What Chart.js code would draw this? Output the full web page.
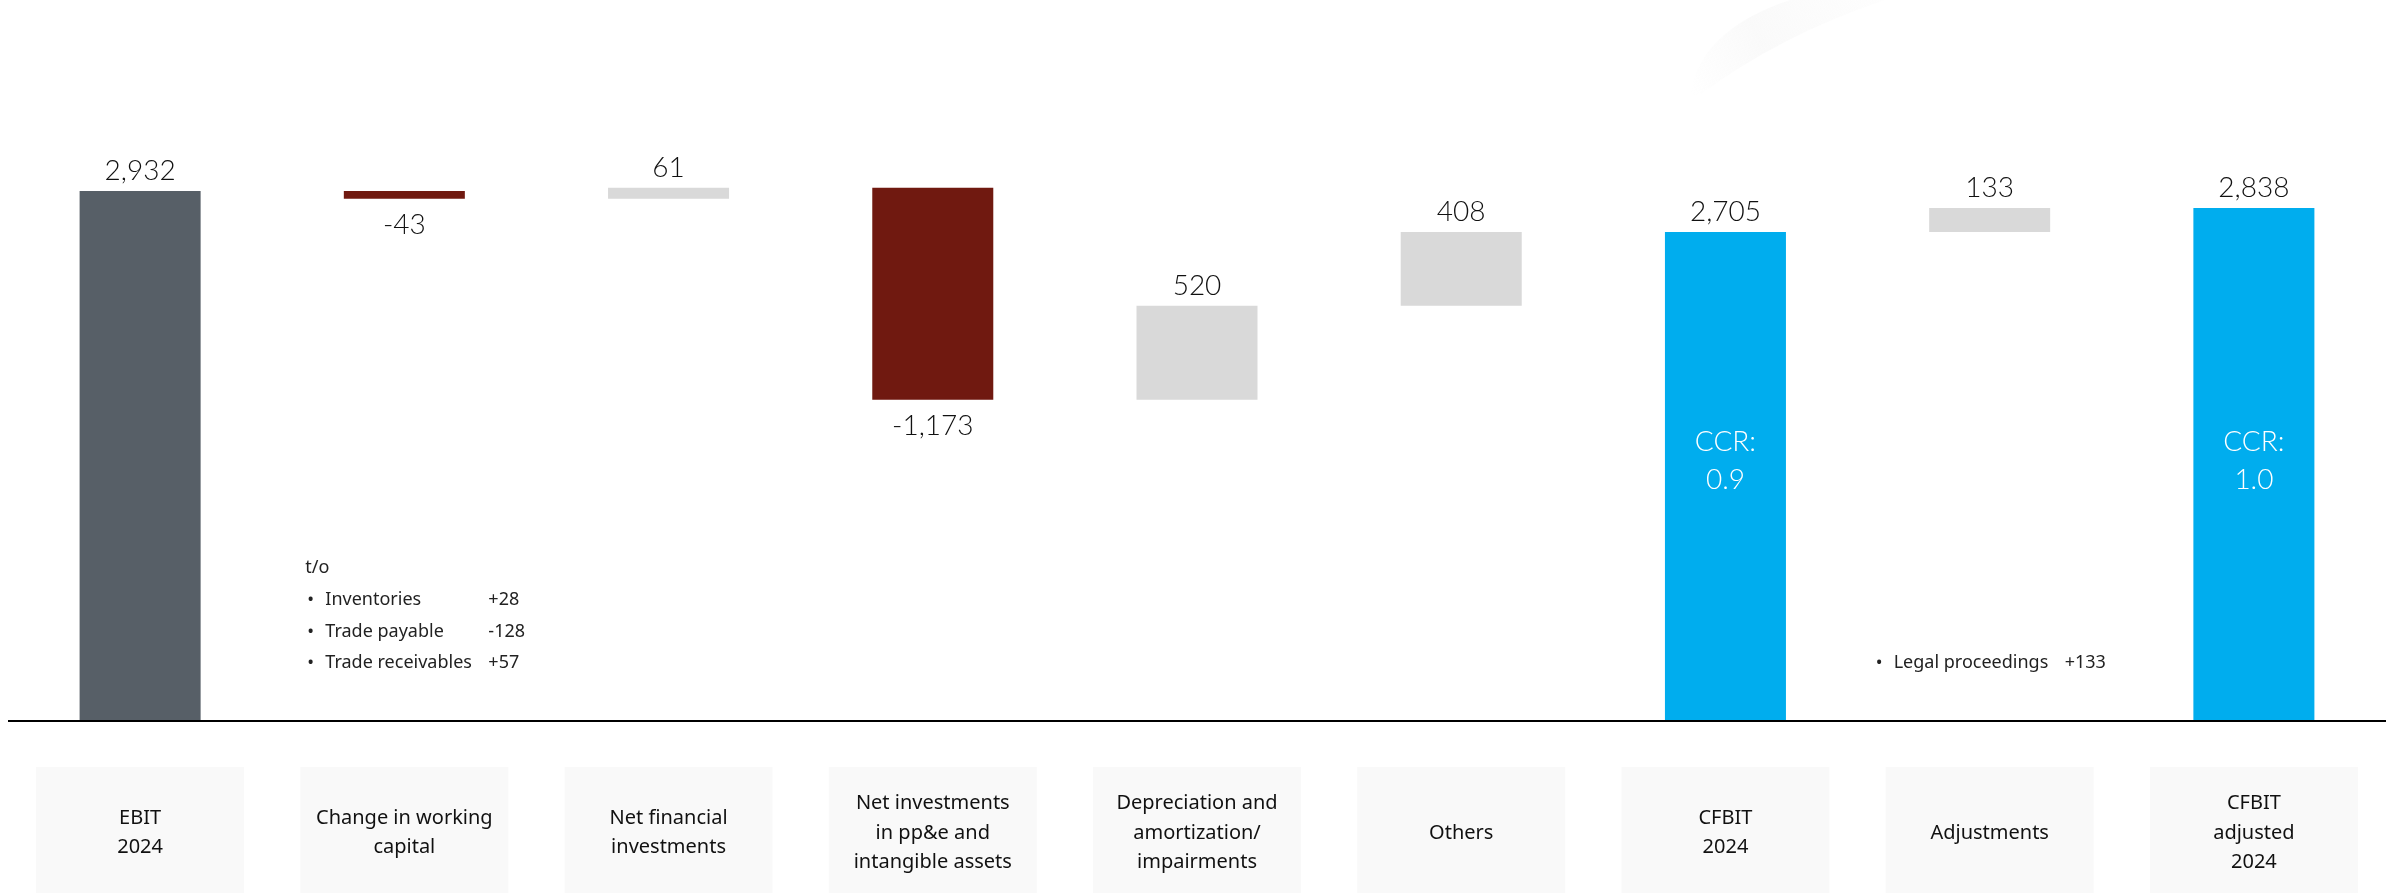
<!DOCTYPE html>
<html>
<head>
<meta charset="utf-8">
<script src="https://cdn.jsdelivr.net/npm/chart.js@4.4.1/dist/chart.umd.min.js"></script>
<style>
  html, body { margin: 0; padding: 0; background: #fff; }
  #wrap { position: relative; width: 2403px; height: 893px; }
</style>
</head>
<body>
<div id="wrap"><canvas id="bridge"></canvas></div>
<script>
// Cash flow bridge, EBIT 2024 -> CFBIT adjusted 2024 (EUR m)
const categories = [
  ['EBIT', '2024'],
  ['Change in working', 'capital'],
  ['Net financial', 'investments'],
  ['Net investments', 'in pp&e and', 'intangible assets'],
  ['Depreciation and', 'amortization/', 'impairments'],
  ['Others'],
  ['CFBIT', '2024'],
  ['Adjustments'],
  ['CFBIT', 'adjusted', '2024']
];
const amounts = [2932, -43, 61, -1173, 520, 408, 2705, 133, 2838];
// 'start' = opening total, 'total' = subtotal, 'step' = change
const kinds = ['start', 'step', 'step', 'step', 'step', 'step', 'total', 'step', 'total'];
const ccrLabels = [null, null, null, null, null, null, ['CCR:', '0.9'], null, ['CCR:', '1.0']];

const workingCapitalNote = [['Inventories', '+28'], ['Trade payable', '-128'], ['Trade receivables', '+57']];
const adjustmentNote = [['Legal proceedings', '+133']];

const START_GREY = '#575F67';
const NEG_RED = '#701910';
const POS_GREY = '#D9D9D9';
const TOTAL_BLUE = '#00ADEE';

// floating ranges built from a running total
let running = 0;
const ranges = amounts.map((v, i) => {
  if (kinds[i] !== 'step') { running = v; return [0, v]; }
  const r = [running, running + v];
  running += v;
  return r;
});
const colors = amounts.map((v, i) => {
  if (kinds[i] === 'start') return START_GREY;
  if (kinds[i] === 'total') return TOTAL_BLUE;
  return v < 0 ? NEG_RED : POS_GREY;
});

const valueFont = "300 28px Lato, 'Liberation Sans', sans-serif";
const catFont = "20px 'Noto Sans', sans-serif";
const noteFont = "18px 'Noto Sans', sans-serif";

const bridgeDecor = {
  id: 'bridgeDecor',
  beforeDatasetsDraw(chart) {
    const { ctx, scales: { x, y } } = chart;
    const base = y.getPixelForValue(0);
    const step = x.getPixelForValue(1) - x.getPixelForValue(0);
    ctx.save();
    // faint slide swoosh, top right
    const g = ctx.createLinearGradient(1690, 90, 1880, 0);
    g.addColorStop(0, 'rgba(238,238,238,0)');
    g.addColorStop(0.4, 'rgba(238,238,238,0.3)');
    g.addColorStop(1, 'rgba(242,242,242,0.12)');
    ctx.fillStyle = g;
    ctx.beginPath();
    ctx.moveTo(1690, 95);
    ctx.quadraticCurveTo(1700, 30, 1790, 0);
    ctx.lineTo(1885, 0);
    ctx.quadraticCurveTo(1780, 35, 1700, 95);
    ctx.closePath();
    ctx.fill();

    // category boxes under the axis
    categories.forEach((lines, i) => {
      const cx = x.getPixelForValue(i);
      const w = step * 0.787;
      ctx.fillStyle = '#F9F9F9';
      ctx.fillRect(cx - w / 2, base + 46, w, chart.height - base - 46);
      ctx.fillStyle = '#111';
      ctx.font = catFont;
      ctx.textAlign = 'center';
      ctx.textBaseline = 'middle';
      const lh = 29.5;
      const y0 = base + 112 - (lines.length - 1) * lh / 2;
      lines.forEach((t, k) => ctx.fillText(t, cx, y0 + k * lh));
    });
    ctx.restore();
  },
  afterDatasetsDraw(chart) {
    const { ctx, chartArea, scales: { x, y } } = chart;
    const base = y.getPixelForValue(0);
    ctx.save();
    // baseline
    ctx.strokeStyle = '#000';
    ctx.lineWidth = 2;
    ctx.beginPath();
    ctx.moveTo(chartArea.left, base);
    ctx.lineTo(chartArea.right, base);
    ctx.stroke();

    // value labels
    ctx.font = valueFont;
    ctx.fillStyle = '#111';
    ctx.textAlign = 'center';
    ctx.textBaseline = 'alphabetic';
    amounts.forEach((v, i) => {
      const cx = x.getPixelForValue(i);
      const hi = ranges[i][1];
      const label = v.toLocaleString('en-US');
      if (v < 0) {
        ctx.fillText(label, cx, y.getPixelForValue(hi) + 35);
      } else {
        ctx.fillText(label, cx, y.getPixelForValue(hi) - 11);
      }
    });

    // CCR inside the subtotal bars
    ctx.fillStyle = '#fff';
    ctx.textBaseline = 'middle';
    ccrLabels.forEach((lines, i) => {
      if (!lines) return;
      const cx = x.getPixelForValue(i);
      const cy = y.getPixelForValue(1440);
      ctx.fillText(lines[0], cx, cy - 19);
      ctx.fillText(lines[1], cx, cy + 19);
    });

    // side notes
    ctx.fillStyle = '#222';
    ctx.font = noteFont;
    ctx.textAlign = 'left';
    const wc = x.getPixelForValue(1);
    ctx.fillText('t/o', wc - 99, 568);
    workingCapitalNote.forEach(([name, val], k) => {
      const ly = 600 + k * 31.5;
      ctx.fillText('\u2022', wc - 97, ly);
      ctx.fillText(name, wc - 79, ly);
      ctx.fillText(val, wc + 84, ly);
    });
    const adj = x.getPixelForValue(7);
    adjustmentNote.forEach(([name, val]) => {
      ctx.fillText('\u2022', adj - 114, 663);
      ctx.fillText(name, adj - 96, 663);
      ctx.fillText(val, adj + 75, 663);
    });
    ctx.restore();
  }
};

new Chart(document.getElementById('bridge'), {
  type: 'bar',
  data: {
    labels: categories,
    datasets: [{
      data: ranges,
      backgroundColor: colors,
      borderWidth: 0,
      categoryPercentage: 1,
      barPercentage: 0.458
    }]
  },
  options: {
    responsive: true,
    maintainAspectRatio: false,
    animation: false,
    layout: { padding: { left: 8, right: 17, top: 16, bottom: 172 } },
    plugins: { legend: { display: false }, tooltip: { enabled: false } },
    scales: {
      x: { display: false },
      y: { display: false, min: 0, max: 3900 }
    }
  },
  plugins: [bridgeDecor]
});
</script>
</body>
</html>
